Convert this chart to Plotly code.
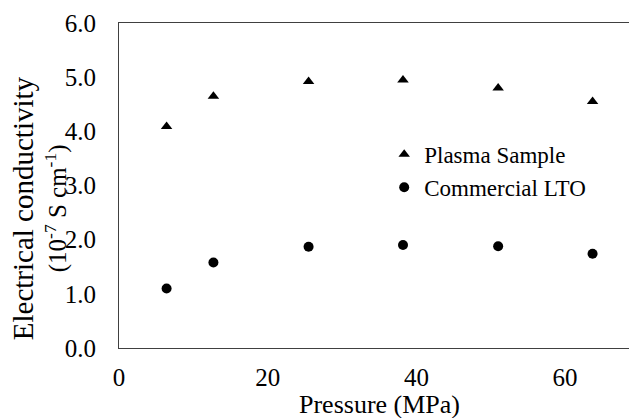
import plotly.graph_objects as go

# Pressure (MPa) and electrical conductivity (10^-7 S cm^-1)
pressure = [6.4, 12.7, 25.5, 38.2, 51.0, 63.7]
plasma_sample = [4.09, 4.65, 4.92, 4.95, 4.80, 4.55]
commercial_lto = [1.10, 1.58, 1.87, 1.90, 1.88, 1.74]

x_ticks = [0, 20, 40, 60]
y_ticks = [0.0, 1.0, 2.0, 3.0, 4.0, 5.0, 6.0]

FONT = "Liberation Serif"
AXIS_COLOR = "#404040"


def serif(size):
    return dict(family=FONT, size=size, color="black")


fig = go.Figure()
fig.add_trace(go.Scatter(
    x=pressure, y=plasma_sample, mode="markers", name="Plasma Sample",
    marker=dict(symbol="triangle-up", size=10, color="black"),
))
fig.add_trace(go.Scatter(
    x=pressure, y=commercial_lto, mode="markers", name="Commercial LTO",
    marker=dict(symbol="circle", size=10, color="black"),
))

fig.update_layout(
    width=629, height=418,
    margin=dict(l=119, r=0, t=23, b=70),
    paper_bgcolor="white", plot_bgcolor="white",
    font=serif(25),
    showlegend=True,
    legend=dict(
        x=0.52, y=0.545, xanchor="left", yanchor="middle",
        bgcolor="rgba(0,0,0,0)", font=serif(23),
        itemwidth=30, tracegroupgap=0,
    ),
    xaxis=dict(
        range=[0, 68.6], tickvals=x_ticks, ticktext=[str(v) for v in x_ticks],
        showgrid=False, zeroline=False, showline=True, linecolor=AXIS_COLOR,
        linewidth=1, mirror=True, ticks="", ticklabelstandoff=7,
        tickfont=serif(25),
    ),
    yaxis=dict(
        range=[0, 6], tickvals=y_ticks, ticktext=[f"{v:.1f}" for v in y_ticks],
        showgrid=False, zeroline=False, showline=True, linecolor=AXIS_COLOR,
        linewidth=1, mirror=False, ticks="", ticklabelstandoff=17,
        tickfont=serif(25),
    ),
    annotations=[
        # x-axis title
        dict(text="Pressure (MPa)", xref="paper", yref="paper",
             x=(379 - 119) / 510, y=-0.175, xanchor="center", yanchor="middle",
             showarrow=False, font=serif(26)),
        # y-axis title, two lines
        dict(text="Electrical conductivity", textangle=-90,
             xref="paper", yref="paper", x=(23 - 119) / 510, y=0.43,
             xanchor="center", yanchor="middle", showarrow=False, font=serif(29)),
        dict(text="(10<sup>-7</sup> S cm<sup>-1</sup>)", textangle=-90,
             xref="paper", yref="paper", x=(56 - 119) / 510, y=0.43,
             xanchor="center", yanchor="middle", showarrow=False, font=serif(25)),
    ],
)

fig.write_html("out.html")
